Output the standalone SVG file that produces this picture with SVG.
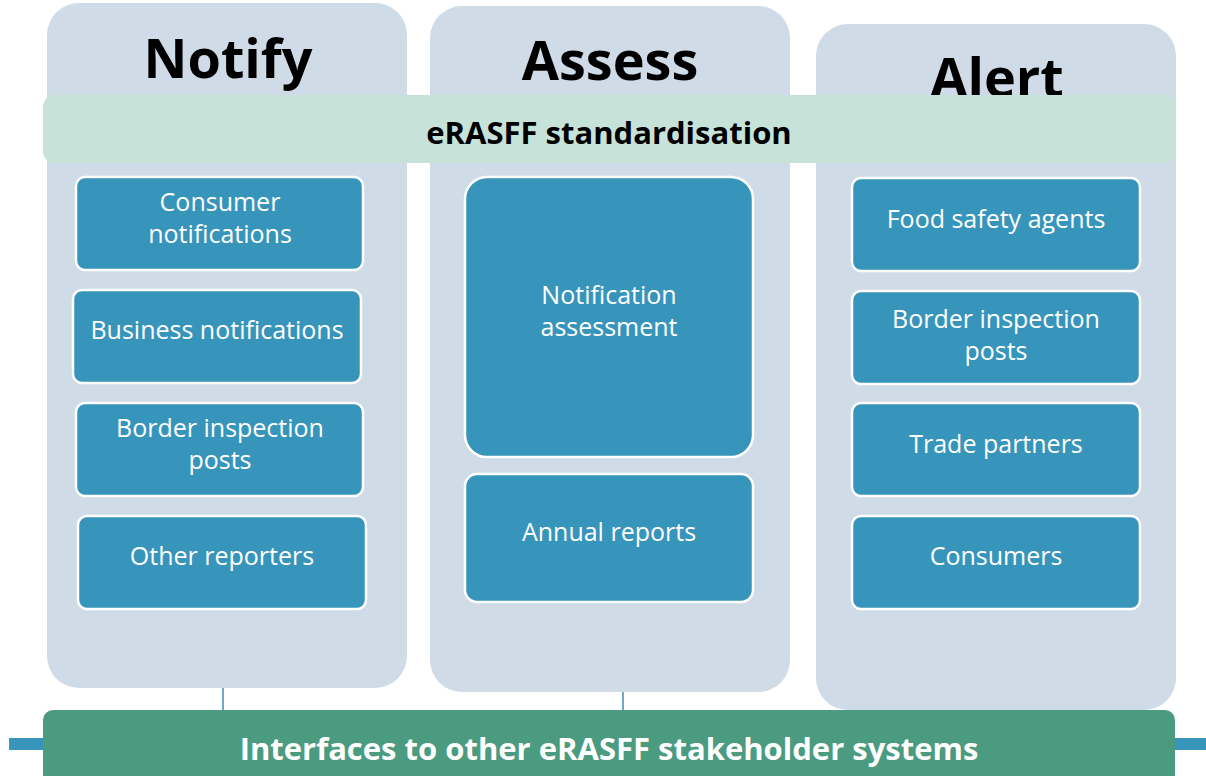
<svg xmlns="http://www.w3.org/2000/svg" width="1206" height="776" viewBox="0 0 1206 776">
<style>
.col{fill:#CFDCE7}
.band{fill:#C7E3D9}
.box{fill:#3795BB;stroke:#FFFFFF;stroke-width:2.5}
.bt{font-family:"Open Sans","Noto Sans",sans-serif;font-size:25px;fill:#FFFFFF;text-anchor:middle}
.h{font-family:"Open Sans","Noto Sans",sans-serif;font-size:54px;font-weight:bold;fill:#000;text-anchor:middle}
.bandt{font-family:"Open Sans","Noto Sans",sans-serif;font-size:31px;font-weight:bold;fill:#000;text-anchor:middle}
.bott{font-family:"Open Sans","Noto Sans",sans-serif;font-size:31px;font-weight:bold;fill:#FFFFFF;text-anchor:middle}
.conn{stroke:#3E8FB8;stroke-width:1.5;fill:none}
.stub{fill:#3795BB}
</style>
<rect width="1206" height="776" fill="#FFFFFF"/>
<g id="col-notify"><rect class="col" x="47" y="3" width="360" height="685" rx="32"/><text class="h" x="228" y="78">Notify</text></g>
<g id="col-assess"><rect class="col" x="430" y="6" width="360" height="686" rx="32"/><text class="h" x="610" y="80">Assess</text></g>
<g id="col-alert"><rect class="col" x="816" y="24" width="360" height="686" rx="32"/><text class="h" x="997" y="97">Alert</text></g>
<g id="connectors">
<line class="conn" x1="223" y1="688" x2="223" y2="711"/>
<line class="conn" x1="623" y1="692" x2="623" y2="711"/>
<rect class="stub" x="9" y="738" width="35" height="12"/>
<rect class="stub" x="1175" y="738" width="31" height="12"/>
</g>
<g id="band"><rect class="band" x="43" y="95" width="1133" height="68" rx="12"/><text class="bandt" x="609" y="144">eRASFF standardisation</text></g>
<g id="n1"><rect class="box" x="76" y="177" width="287" height="93" rx="9"/><text class="bt" x="220" y="211">Consumer</text><text class="bt" x="220" y="243">notifications</text></g>
<g id="n2"><rect class="box" x="73" y="290" width="288" height="93" rx="9"/><text class="bt" x="217" y="339">Business notifications</text></g>
<g id="n3"><rect class="box" x="76" y="403" width="287" height="93" rx="9"/><text class="bt" x="220" y="437">Border inspection</text><text class="bt" x="220" y="469">posts</text></g>
<g id="n4"><rect class="box" x="78" y="516" width="288" height="93" rx="9"/><text class="bt" x="222" y="565">Other reporters</text></g>
<g id="a1"><rect class="box" x="465" y="177" width="288" height="280" rx="22"/><text class="bt" x="609" y="304">Notification</text><text class="bt" x="609" y="336">assessment</text></g>
<g id="a2"><rect class="box" x="465" y="474" width="288" height="128" rx="12"/><text class="bt" x="609" y="541">Annual reports</text></g>
<g id="l1"><rect class="box" x="852" y="178" width="288" height="93" rx="9"/><text class="bt" x="996" y="228">Food safety agents</text></g>
<g id="l2"><rect class="box" x="852" y="291" width="288" height="93" rx="9"/><text class="bt" x="996" y="328">Border inspection</text><text class="bt" x="996" y="360">posts</text></g>
<g id="l3"><rect class="box" x="852" y="403" width="288" height="93" rx="9"/><text class="bt" x="996" y="453">Trade partners</text></g>
<g id="l4"><rect class="box" x="852" y="516" width="288" height="93" rx="9"/><text class="bt" x="996" y="565">Consumers</text></g>
<g id="bottom"><rect x="43" y="710" width="1132" height="80" rx="10" fill="#4A9B80"/><text class="bott" x="609" y="760">Interfaces to other eRASFF stakeholder systems</text></g>
</svg>
